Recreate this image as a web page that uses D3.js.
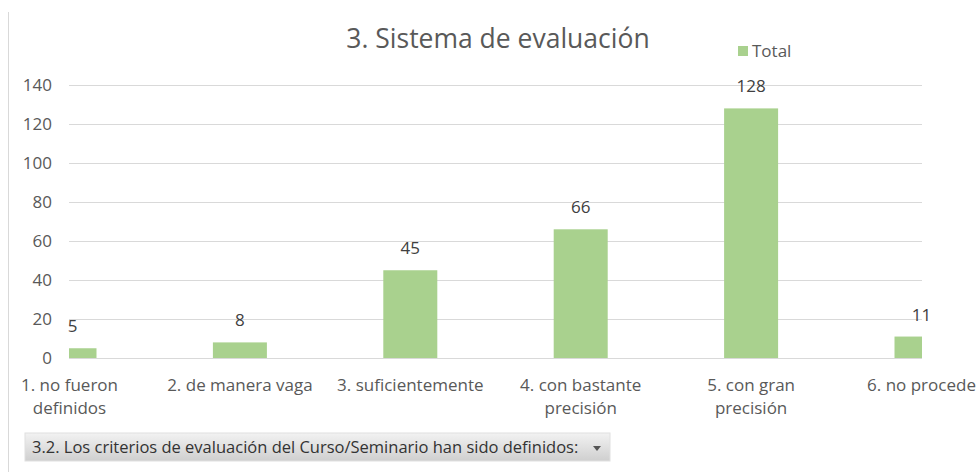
<!DOCTYPE html>
<html>
<head>
<meta charset="utf-8">
<script src="https://cdn.jsdelivr.net/npm/d3@7"></script>
<style>
  html, body { margin: 0; padding: 0; background: #fff; }
  svg { display: block; }
</style>
</head>
<body>
<svg id="chart" width="977" height="472"></svg>
<script>
const title = "3. Sistema de evaluación";
const seriesName = "Total";
const categories = ["1. no fueron definidos", "2. de manera vaga", "3. suficientemente", "4. con bastante precisión", "5. con gran precisión", "6. no procede"];
const categoryLines = [["1. no fueron", "definidos"], ["2. de manera vaga"], ["3. suficientemente"], ["4. con bastante", "precisión"], ["5. con gran", "precisión"], ["6. no procede"]];
const values = [5, 8, 45, 66, 128, 11];
const yTicks = [0, 20, 40, 60, 80, 100, 120, 140];
const filterLabel = "3.2. Los criterios de evaluación del Curso/Seminario han sido definidos:";

const FONT = "'Open Sans', Lato, sans-serif";
const svg = d3.select("#chart");

const plot = { left: 69, right: 922, top: 85, bottom: 358 };
const x = d3.scalePoint().domain(categories).range([69.5, 921.5]);
const y = d3.scaleLinear().domain([0, 140]).range([plot.bottom, plot.top]);
const barW = 54;

// left border line
svg.append("line").attr("x1", 8.5).attr("x2", 8.5).attr("y1", 12).attr("y2", 472)
  .attr("stroke", "#d9d9d9").attr("stroke-width", 1);

// gridlines
svg.append("g").selectAll("line").data(yTicks).join("line")
  .attr("x1", plot.left).attr("x2", plot.right)
  .attr("y1", d => Math.round(y(d)) + 0.5).attr("y2", d => Math.round(y(d)) + 0.5)
  .attr("stroke", "#d9d9d9").attr("stroke-width", 1);

// y axis labels
const yAxis = d3.axisLeft(y).tickValues(yTicks).tickSize(0).tickPadding(0);
const gy = svg.append("g").attr("transform", "translate(52,0)").call(yAxis);
gy.select(".domain").remove();
gy.selectAll("text").attr("font-family", FONT).attr("font-size", 17).attr("fill", "#595959").attr("dy", "0.35em");

// clip
svg.append("defs").append("clipPath").attr("id", "plotclip")
  .append("rect").attr("x", plot.left).attr("y", 0).attr("width", plot.right - plot.left).attr("height", plot.bottom + 1);

svg.append("g").attr("clip-path", "url(#plotclip)")
  .selectAll("rect").data(values).join("rect")
  .attr("x", (d, i) => x(categories[i]) - barW / 2)
  .attr("y", d => y(d))
  .attr("width", barW)
  .attr("height", d => y(0) - y(d))
  .attr("fill", "#a9d18e");

// data labels
svg.append("g").selectAll("text").data(values).join("text")
  .attr("x", (d, i) => x(categories[i]) + (i === 0 ? 3 : 0))
  .attr("y", d => y(d) - 16)
  .attr("text-anchor", "middle")
  .attr("font-family", FONT).attr("font-size", 17).attr("fill", "#404040")
  .text(d => d);

// x labels
const gx = svg.append("g");
categories.forEach((c, i) => {
  const t = gx.append("text")
    .attr("x", x(c)).attr("y", 391)
    .attr("text-anchor", "middle")
    .attr("font-family", FONT).attr("font-size", 17).attr("fill", "#595959");
  categoryLines[i].forEach((ln, j) => {
    t.append("tspan").attr("x", x(c)).attr("dy", j === 0 ? 0 : 23).text(ln);
  });
});

// title
svg.append("text").attr("x", 498).attr("y", 48).attr("text-anchor", "middle")
  .attr("font-family", FONT).attr("font-size", 26.5).attr("fill", "#595959").text(title);

// legend
svg.append("rect").attr("x", 738).attr("y", 46).attr("width", 10).attr("height", 10).attr("fill", "#a9d18e");
svg.append("text").attr("x", 752).attr("y", 57).attr("font-family", FONT).attr("font-size", 17)
  .attr("fill", "#595959").text(seriesName);

// filter button
const defs = svg.select("defs");
const grad = defs.append("linearGradient").attr("id", "btngrad").attr("x1", 0).attr("y1", 0).attr("x2", 0).attr("y2", 1);
grad.append("stop").attr("offset", "0%").attr("stop-color", "#f2f2f2");
grad.append("stop").attr("offset", "100%").attr("stop-color", "#cfcfcf");
svg.append("rect").attr("x", 25).attr("y", 433).attr("width", 585).attr("height", 28)
  .attr("fill", "url(#btngrad)").attr("stroke", "#e0e0e0");
svg.append("text").attr("x", 32).attr("y", 453).attr("font-family", FONT).attr("font-size", 16.5)
  .attr("fill", "#333").text(filterLabel);
svg.append("path").attr("d", "M593,446 L601,446 L597,451 Z").attr("fill", "#555");
</script>
</body>
</html>
